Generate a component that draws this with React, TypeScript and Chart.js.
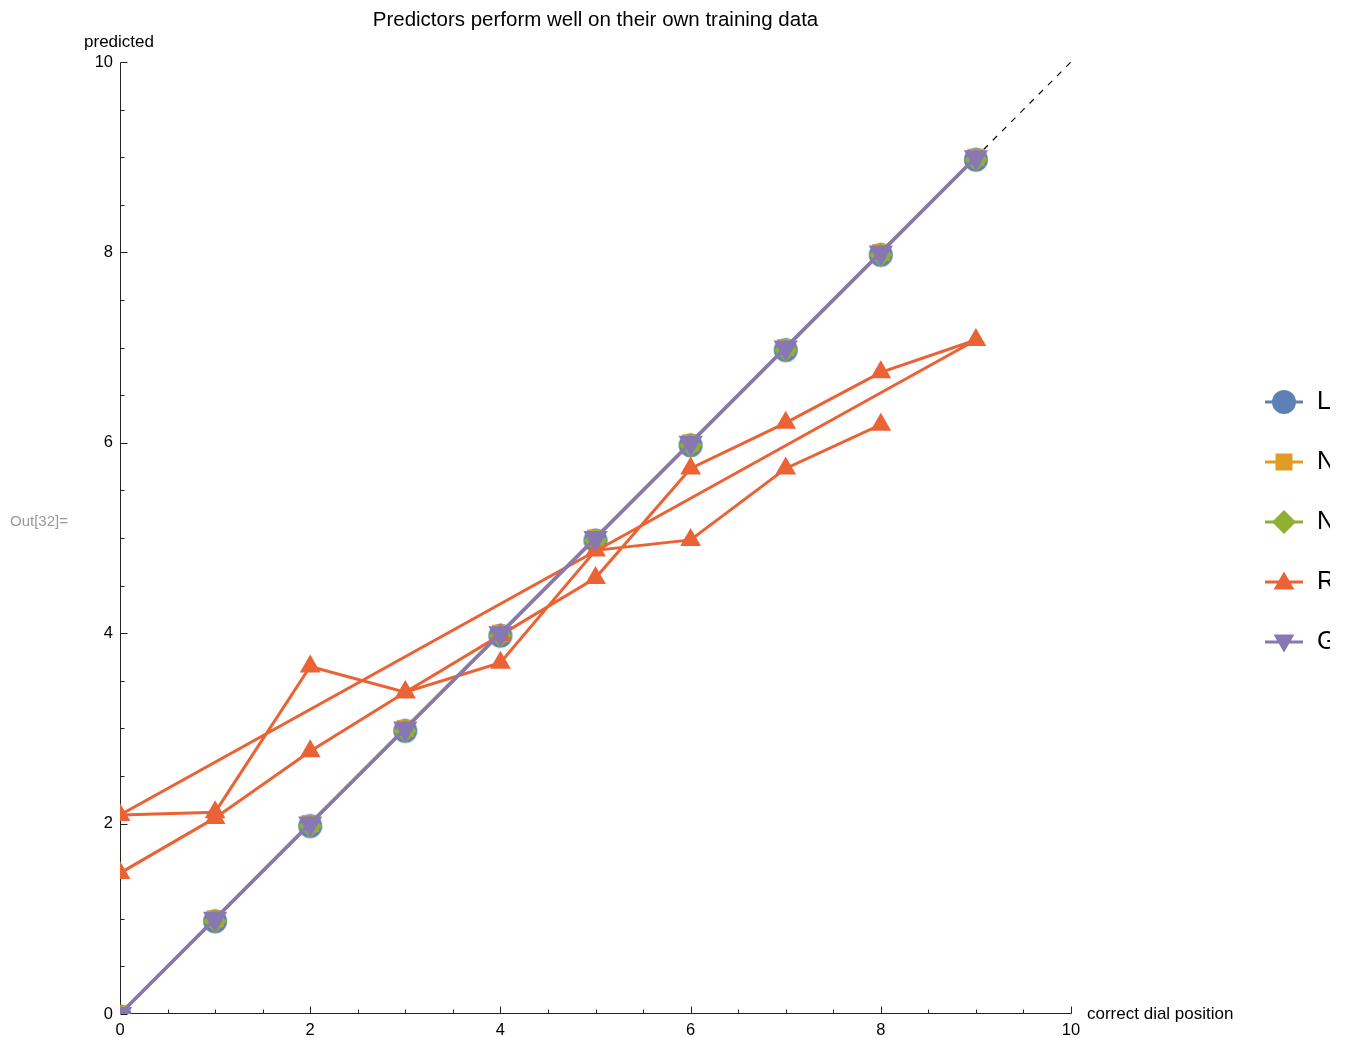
import React, { useEffect, useRef } from 'react';
import { Chart, registerables } from 'chart.js';
import { drawPoint } from 'chart.js/helpers';

Chart.register(...registerables);

// ---- data ----
const dialPositions = [0, 1, 2, 3, 4, 5, 6, 7, 8, 9];
const linearRegression = [0, 1, 2, 3, 4, 5, 6, 7, 8, 9];
const nearestNeighbors = [0, 1, 2, 3, 4, 5, 6, 7, 8, 9];
const neuralNetwork = [0, 1, 2, 3, 4, 5, 6, 7, 8, 9];
const gaussianProcess = [0, 1, 2, 3, 4, 5, 6, 7, 8, 9];
const randomForestX = [0, 1, 2, 3, 4, 5, 6, 7, 8, 9, 0, 1, 2, 3, 4, 5, 6, 7, 8];
const randomForestY = [1.48, 2.06, 2.76, 3.38, 3.98, 4.58, 5.73, 6.21, 6.74, 7.08, 2.09, 2.12, 3.65, 3.38, 3.69, 4.87, 4.98, 5.73, 6.19];
const diagonalX = [0, 10];
const diagonalY = [0, 10];

const seriesNames = ['LinearRegression', 'NearestNeighbors', 'NeuralNetwork', 'RandomForest', 'GaussianProcess'];
const seriesColors = ['#5E81B5', '#E19C24', '#8FB032', '#EB6235', '#8778B3'];
const seriesStyles = ['circle', 'rect', 'rectRot', 'triangle', 'triangle'];
const seriesRotations = [0, 0, 0, 0, 180];
const seriesRadii = [12, 12, 12, 12, 14];
const seriesLineWidths = [3, 3, 3, 3, 3.5];
const drawOrder = [4, 3, 2, 1, 0]; // lower = drawn on top

const majorTicks = [0, 2, 4, 6, 8, 10];
const minorTicks = [0.5, 1, 1.5, 2.5, 3, 3.5, 4.5, 5, 5.5, 6.5, 7, 7.5, 8.5, 9, 9.5];
const tickLabels = ['0', '2', '4', '6', '8', '10'];

const titleText = 'Predictors perform well on their own training data';
const xAxisLabel = 'correct dial position';
const yAxisLabel = 'predicted';
const outLabel = 'Out[32]=';

const FONT = '"Liberation Sans", Arial, sans-serif';

function pts(xs: number[], ys: number[]) {
  return xs.map((x, i) => ({ x, y: ys[i] }));
}

// glyph-like markers (circle, diamond) drawn slightly below their anchor, as in the original
function makeGlyphMarker(kind: string, color: string) {
  const c = document.createElement('canvas');
  c.width = 32;
  c.height = 32;
  const g = c.getContext('2d')!;
  g.fillStyle = color;
  g.beginPath();
  const cx = 16;
  const cy = 18.5;
  if (kind === 'circle') {
    g.arc(cx, cy, 12, 0, Math.PI * 2);
  } else {
    g.moveTo(cx, cy - 12);
    g.lineTo(cx + 12, cy);
    g.lineTo(cx, cy + 12);
    g.lineTo(cx - 12, cy);
    g.closePath();
  }
  g.fill();
  return c;
}

const decorPlugin = {
  id: 'decor',
  beforeDatasetsDraw(chart: any) {
    const ctx = chart.ctx;
    const xs = chart.scales.x;
    const ys = chart.scales.y;
    const x0 = Math.round(xs.getPixelForValue(0)) + 0.5;
    const y0 = Math.round(ys.getPixelForValue(0)) - 0.5;
    ctx.save();
    ctx.strokeStyle = '#222';
    ctx.lineWidth = 1;
    ctx.beginPath();
    ctx.moveTo(x0, Math.round(ys.getPixelForValue(10)) + 0.5);
    ctx.lineTo(x0, y0);
    ctx.lineTo(Math.round(xs.getPixelForValue(10)) + 0.5, y0);
    ctx.stroke();
    ctx.beginPath();
    majorTicks.forEach((v) => {
      const px = Math.round(xs.getPixelForValue(v)) + 0.5;
      ctx.moveTo(px, y0);
      ctx.lineTo(px, y0 - 7);
      const py = Math.round(ys.getPixelForValue(v)) + 0.5;
      ctx.moveTo(x0, py);
      ctx.lineTo(x0 + 7, py);
    });
    minorTicks.forEach((v) => {
      const px = Math.round(xs.getPixelForValue(v)) + 0.5;
      ctx.moveTo(px, y0);
      ctx.lineTo(px, y0 - 4);
      const py = Math.round(ys.getPixelForValue(v)) + 0.5;
      ctx.moveTo(x0, py);
      ctx.lineTo(x0 + 4, py);
    });
    ctx.stroke();
    ctx.restore();
  },
  afterDraw(chart: any) {
    const ctx = chart.ctx;
    const xs = chart.scales.x;
    const ys = chart.scales.y;
    ctx.save();
    ctx.fillStyle = '#000';
    // tick labels
    ctx.font = `16.5px ${FONT}`;
    ctx.textBaseline = 'middle';
    majorTicks.forEach((v, i) => {
      ctx.textAlign = 'center';
      ctx.fillText(tickLabels[i], xs.getPixelForValue(v), ys.getPixelForValue(0) + 16);
      ctx.textAlign = 'right';
      ctx.fillText(tickLabels[i], xs.getPixelForValue(0) - 7, ys.getPixelForValue(v));
    });
    // axis labels
    ctx.font = `17px ${FONT}`;
    ctx.textAlign = 'center';
    ctx.fillText(yAxisLabel, xs.getPixelForValue(0) - 1, ys.getPixelForValue(10) - 20);
    ctx.textAlign = 'left';
    ctx.fillText(xAxisLabel, xs.getPixelForValue(10) + 16, ys.getPixelForValue(0));
    // title
    ctx.font = `20.5px ${FONT}`;
    ctx.textAlign = 'center';
    ctx.fillText(titleText, (xs.left + xs.right) / 2, 20);
    // Out label
    ctx.font = `15px ${FONT}`;
    ctx.fillStyle = '#999';
    ctx.textAlign = 'left';
    ctx.fillText(outLabel, 10, 522);
    // legend
    const legendTop = 402;
    const legendStep = 60;
    const markerX = 1284;
    seriesNames.forEach((name, i) => {
      const y = legendTop + i * legendStep;
      ctx.strokeStyle = seriesColors[i];
      ctx.fillStyle = seriesColors[i];
      ctx.lineWidth = 3;
      ctx.beginPath();
      ctx.moveTo(markerX - 19, y);
      ctx.lineTo(markerX + 19, y);
      ctx.stroke();
      drawPoint(ctx, {
        pointStyle: seriesStyles[i],
        rotation: seriesRotations[i],
        radius: 12,
        borderWidth: 0,
      } as any, markerX, y + (seriesRotations[i] === 180 ? -1.5 : seriesStyles[i] === 'triangle' ? 1.5 : 0));
      ctx.fillStyle = '#000';
      ctx.font = `25px ${FONT}`;
      ctx.textAlign = 'left';
      ctx.textBaseline = 'middle';
      ctx.fillText(name, 1317, y);
    });
    ctx.restore();
  },
};

export default function App() {
  const canvasRef = useRef<HTMLCanvasElement | null>(null);

  useEffect(() => {
    if (!canvasRef.current) return;
    const seriesY = [linearRegression, nearestNeighbors, neuralNetwork, null, gaussianProcess];
    const datasets: any[] = seriesNames.map((name, i) => {
      const data = i === 3 ? pts(randomForestX, randomForestY) : pts(dialPositions, seriesY[i] as number[]);
      let style: any = seriesStyles[i];
      if (i === 0) style = makeGlyphMarker('circle', seriesColors[0]);
      if (i === 2) style = makeGlyphMarker('diamond', seriesColors[2]);
      return {
        label: name,
        data,
        showLine: true,
        borderColor: seriesColors[i],
        backgroundColor: seriesColors[i],
        borderWidth: seriesLineWidths[i],
        pointStyle: style,
        rotation: seriesRotations[i],
        pointRadius: seriesRadii[i],
        pointHoverRadius: seriesRadii[i],
        pointBorderWidth: 0,
        pointBackgroundColor: seriesColors[i],
        pointBorderColor: seriesColors[i],
        tension: 0,
        clip: 0,
        order: drawOrder[i],
      };
    });
    datasets.push({
      label: 'diagonal',
      data: pts(diagonalX, diagonalY),
      showLine: true,
      borderColor: '#000',
      borderWidth: 1.2,
      borderDash: [6, 7],
      pointRadius: 0,
      clip: 0,
      order: 10,
    });

    const chart = new Chart(canvasRef.current, {
      type: 'scatter',
      data: { datasets },
      options: {
        animation: false,
        responsive: false,
        devicePixelRatio: 1,
        layout: { padding: { left: 120, right: 259, top: 62, bottom: 24 } },
        plugins: {
          legend: { display: false },
          title: { display: false },
          tooltip: { enabled: false },
        },
        events: [],
        scales: {
          x: { type: 'linear', min: 0, max: 10, display: false },
          y: { type: 'linear', min: 0, max: 10, display: false },
        },
      },
      plugins: [decorPlugin],
    } as any);
    return () => chart.destroy();
  }, []);

  return (
    <div style={{ position: 'absolute', left: 0, top: 0, width: 1330, height: 1038, background: '#fff' }}>
      <canvas ref={canvasRef} width={1330} height={1038} style={{ width: 1330, height: 1038, display: 'block' }} />
    </div>
  );
}
